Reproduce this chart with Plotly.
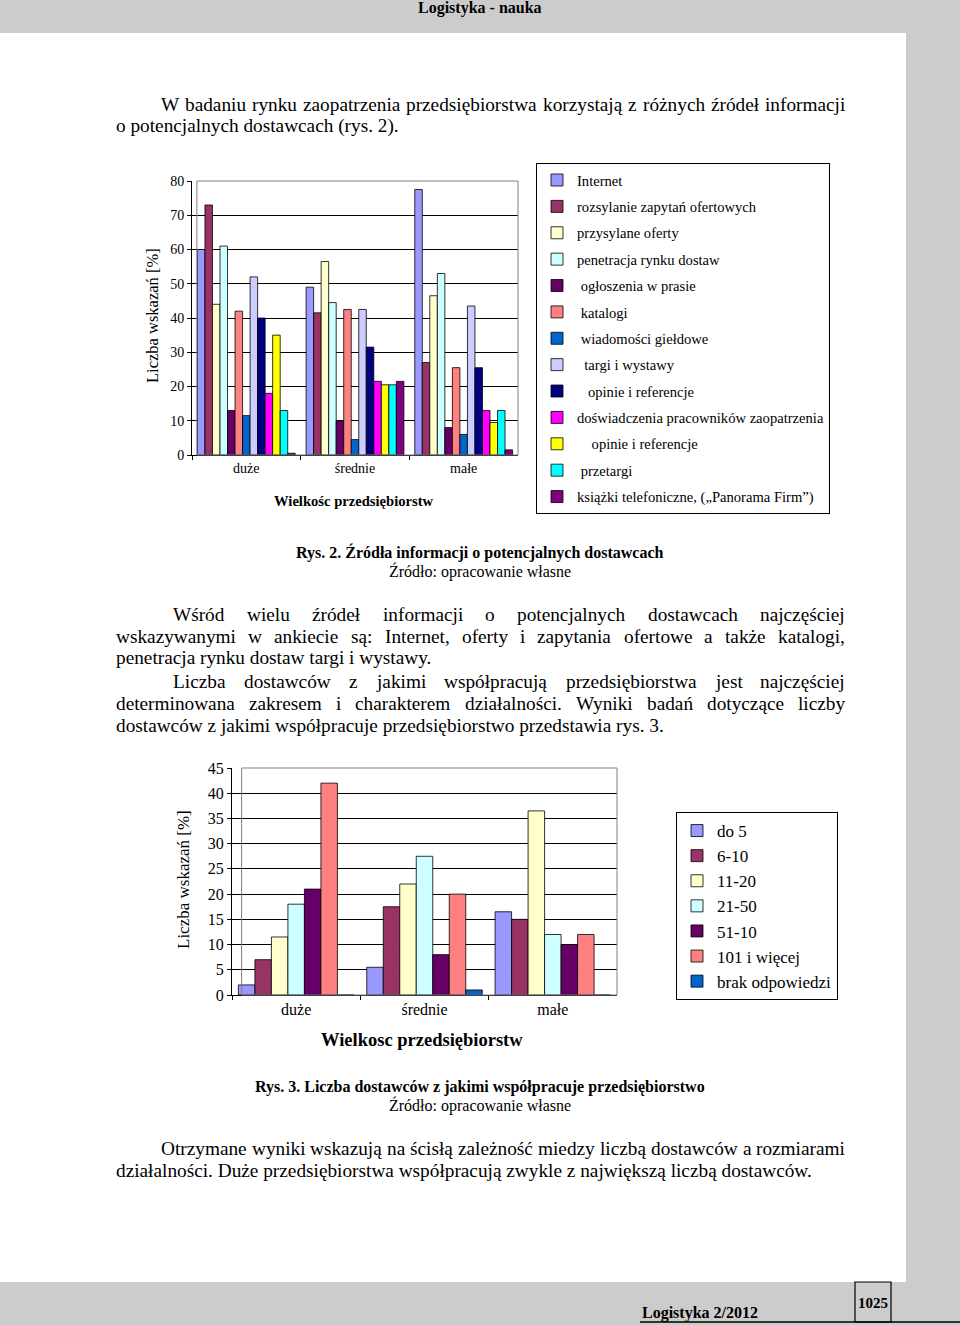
import glob
import plotly.graph_objects as go

W, H = 960, 1325
FONT = "Liberation Serif, Times New Roman, serif"

# ---------------- Rys. 2 data ----------------
size_categories = ["duże", "średnie", "małe"]
source_names = [
    "Internet",
    "rozsylanie zapytań ofertowych",
    "przysylane oferty",
    "penetracja rynku dostaw",
    "\u00a0ogłoszenia w prasie",
    "\u00a0katalogi",
    "\u00a0wiadomości giełdowe",
    "\u00a0\u00a0targi i wystawy",
    "\u00a0\u00a0\u00a0opinie i referencje",
    "doświadczenia pracowników zaopatrzenia",
    "\u00a0\u00a0\u00a0\u00a0opinie i referencje",
    "\u00a0przetargi",
    "książki telefoniczne, („Panorama Firm”)",
]
duze_sources = [60, 73, 44, 61, 13, 42, 11.5, 52, 40, 18, 35, 13, 0.5]
srednie_sources = [49, 41.5, 56.5, 44.5, 10, 42.5, 4.5, 42.5, 31.5, 21.5, 20.5, 20.5, 21.5]
male_sources = [77.5, 27, 46.5, 53, 8, 25.5, 6, 43.5, 25.5, 13, 9.5, 13, 1.5]
source_colors = ["#9999FF", "#993366", "#FFFFCC", "#CCFFFF", "#660066", "#FF8080",
                 "#0066CC", "#CCCCFF", "#000080", "#FF00FF", "#FFFF00", "#00FFFF", "#800080"]

# ---------------- Rys. 3 data ----------------
supplier_ranges = ["do 5", "6-10", "11-20", "21-50", "51-10", "101 i więcej", "brak odpowiedzi"]
duze_suppliers = [2, 7, 11.5, 18, 21, 42, 0]
srednie_suppliers = [5.5, 17.5, 22, 27.5, 8, 20, 1]
male_suppliers = [16.5, 15, 36.5, 12, 10, 12, 0]
supplier_colors = ["#9999FF", "#993366", "#FFFFCC", "#CCFFFF", "#660066", "#FF8080", "#0066CC"]


def px(x):
    return x / W


def py(y):
    return 1 - y / H


fig = go.Figure()

# chart 1 bars
for i, name in enumerate(source_names):
    fig.add_trace(go.Bar(
        x=size_categories,
        y=[duze_sources[i], srednie_sources[i], male_sources[i]],
        name=name, marker=dict(color=source_colors[i], line=dict(color="black", width=0.8)),
        xaxis="x", yaxis="y", legend="legend", legendgroup="a%d" % i,
    ))

# chart 2 bars
for i, name in enumerate(supplier_ranges):
    fig.add_trace(go.Bar(
        x=size_categories,
        y=[duze_suppliers[i], srednie_suppliers[i], male_suppliers[i]],
        name=name, marker=dict(color=supplier_colors[i], line=dict(color="black", width=0.8)),
        xaxis="x2", yaxis="y2", legend="legend2", legendgroup="b%d" % i,
    ))

# ---- text measurement (for justified lines) ----
_font_cache = {}


def measure(text, size):
    try:
        from PIL import ImageFont
        if size not in _font_cache:
            paths = glob.glob("/usr/share/fonts/**/LiberationSerif-Regular.ttf", recursive=True)
            _font_cache[size] = ImageFont.truetype(paths[0], size)
        return _font_cache[size].getlength(text)
    except Exception:
        return len(text) * 0.45 * size


annotations = []
BODY = 19.3


def ann(text, x, y, size=BODY, xanchor="left", bold=False, angle=0):
    annotations.append(dict(
        text=("<b>%s</b>" % text) if bold else text, x=px(x), y=py(y), xref="paper", yref="paper",
        xanchor=xanchor, yanchor="middle", showarrow=False, textangle=angle,
        font=dict(family=FONT, size=size, color="black"), borderpad=0,
    ))


def justify(text, left, right, y, size=BODY):
    words = text.split(" ")
    widths = [measure(w, size) for w in words]
    gap = (right - left - sum(widths)) / (len(words) - 1)
    if gap < 0.6 * measure(" ", size):
        ann(text, left, y, size)
        return
    x = left
    for w, wd in zip(words, widths):
        ann(w, x, y, size)
        x += wd + gap


# header / footer
ann("Logistyka - nauka", 480, 8, size=16, xanchor="center", bold=True)
ann("Logistyka 2/2012", 641, 1313, size=16, xanchor="left", bold=True)
ann("1025", 873, 1303, size=15, xanchor="center", bold=True)

# body text
justify("W badaniu rynku zaopatrzenia przedsiębiorstwa korzystają z różnych źródeł informacji", 160, 844, 104)
ann("o potencjalnych dostawcach (rys. 2).", 115, 126)

ann("Rys. 2. Źródła informacji o potencjalnych dostawcach", 480, 552, size=16, xanchor="center", bold=True)
ann("Źródło: opracowanie własne", 480, 571, size=16, xanchor="center")

justify("Wśród wielu źródeł informacji o potencjalnych dostawcach najczęściej", 172, 844, 614)
justify("wskazywanymi w ankiecie są: Internet, oferty i zapytania ofertowe a także katalogi,", 115, 844, 636)
ann("penetracja rynku dostaw targi i wystawy.", 115, 658)
justify("Liczba dostawców z jakimi współpracują przedsiębiorstwa jest najczęściej", 172, 844, 681)
justify("determinowana zakresem i charakterem działalności. Wyniki badań dotyczące liczby", 115, 844, 703)
ann("dostawców z jakimi współpracuje przedsiębiorstwo przedstawia rys. 3.", 115, 725)

ann("Rys. 3. Liczba dostawców z jakimi współpracuje przedsiębiorstwo", 480, 1087, size=16, xanchor="center", bold=True)
ann("Źródło: opracowanie własne", 480, 1105, size=16, xanchor="center")

justify("Otrzymane wyniki wskazują na ścisłą zależność miedzy liczbą dostawców a rozmiarami", 160, 844, 1148)
ann("działalności. Duże przedsiębiorstwa współpracują zwykle z największą liczbą dostawców.", 115, 1170)

# chart axis titles
ann("Liczba wskazań [%]", 152, 316, size=16.5, xanchor="center", angle=-90)
ann("Wielkośc przedsiębiorstw", 353, 501, size=14.6, xanchor="center", bold=True)
ann("Liczba wskazań [%]", 183, 880, size=17, xanchor="center", angle=-90)
ann("Wielkosc przedsiębiorstw", 422, 1040, size=18.5, xanchor="center", bold=True)

GRAY = "#CCCCCC"
shapes = [
    # page background bands
    dict(type="rect", xref="paper", yref="paper", x0=0, x1=1, y0=py(33), y1=1,
         fillcolor=GRAY, line=dict(width=0), layer="below"),
    dict(type="rect", xref="paper", yref="paper", x0=px(906), x1=1, y0=0, y1=1,
         fillcolor=GRAY, line=dict(width=0), layer="below"),
    dict(type="rect", xref="paper", yref="paper", x0=0, x1=1, y0=0, y1=py(1282),
         fillcolor=GRAY, line=dict(width=0), layer="below"),
    # page number box and footer line
    dict(type="rect", xref="paper", yref="paper", x0=px(855), x1=px(891), y0=py(1322), y1=py(1282),
         line=dict(color="black", width=1.2)),
    dict(type="line", xref="paper", yref="paper", x0=px(640), x1=1, y0=py(1322), y1=py(1322),
         line=dict(color="black", width=1.5)),
    # plot-area frames (back walls)
    dict(type="rect", xref="x domain", yref="y domain", x0=0.015, x1=1.0, y0=0.0, y1=1.0,
         line=dict(color="#808080", width=1)),
    dict(type="rect", xref="x2 domain", yref="y2 domain", x0=0.025, x1=1.0, y0=0.0, y1=1.0,
         line=dict(color="#808080", width=1)),
]

axis_common = dict(showline=True, linecolor="black", linewidth=1, ticks="outside", ticklen=4,
                   tickcolor="black", zeroline=False, automargin=False)

fig.update_layout(
    width=W, height=H, margin=dict(l=0, r=0, t=0, b=0, pad=0, autoexpand=False),
    paper_bgcolor="white", plot_bgcolor="white",
    barmode="group", bargap=0.1, bargroupgap=0,
    showlegend=True,
    annotations=annotations, shapes=shapes,
    xaxis=dict(domain=[px(192), px(518)], anchor="y", type="category", tickson="boundaries",
               showgrid=False, tickfont=dict(family=FONT, size=14, color="black"), **axis_common),
    yaxis=dict(domain=[py(455), py(181)], anchor="x", range=[0, 80], dtick=10,
               showgrid=True, gridcolor="black", gridwidth=1,
               tickfont=dict(family=FONT, size=14, color="black"), **axis_common),
    xaxis2=dict(domain=[px(232), px(617)], anchor="y2", type="category", tickson="boundaries",
                showgrid=False, tickfont=dict(family=FONT, size=16, color="black"), **axis_common),
    yaxis2=dict(domain=[py(995), py(768)], anchor="x2", range=[0, 45], dtick=5,
                showgrid=True, gridcolor="black", gridwidth=1,
                tickfont=dict(family=FONT, size=16, color="black"), **axis_common),
    legend=dict(x=px(536), y=py(163), xanchor="left", yanchor="top",
                bordercolor="black", borderwidth=1, bgcolor="white",
                font=dict(family=FONT, size=14.6, color="black"),
                traceorder="grouped", tracegroupgap=4.4, itemwidth=30),
    legend2=dict(x=px(676), y=py(812), xanchor="left", yanchor="top",
                 bordercolor="black", borderwidth=1, bgcolor="white",
                 font=dict(family=FONT, size=17, color="black"),
                 traceorder="grouped", tracegroupgap=0, itemwidth=30),
)

fig.write_html(
    "out.html",
    config={"displayModeBar": False},
    post_script="document.body.style.margin='0';document.body.style.padding='0';",
)
